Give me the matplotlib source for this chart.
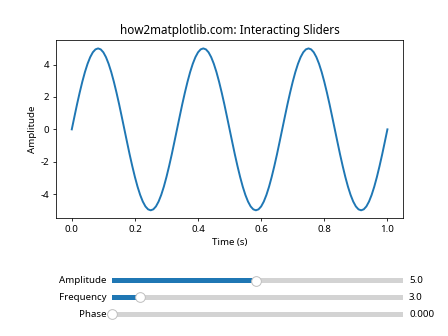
import matplotlib
matplotlib.use("Agg")
import matplotlib.pyplot as plt
from matplotlib.widgets import Slider

plt.rcParams["font.family"] = ["Noto Sans", "DejaVu Sans"]
plt.rcParams["axes.unicode_minus"] = False

# slider settings shown in the picture
amp0, freq0, phase0 = 5.0, 3.0, 0.0

t = [k / 120 for k in range(121)]
y = [0.0, 0.78, 1.55, 2.27, 2.94, 3.54, 4.05, 4.46, 4.76, 4.94,
     5.0, 4.94, 4.76, 4.46, 4.05, 3.54, 2.94, 2.27, 1.55, 0.78,
     0.0, -0.78, -1.55, -2.27, -2.94, -3.54, -4.05, -4.46, -4.76, -4.94,
     -5.0, -4.94, -4.76, -4.46, -4.05, -3.54, -2.94, -2.27, -1.55, -0.78,
     0.0, 0.78, 1.55, 2.27, 2.94, 3.54, 4.05, 4.46, 4.76, 4.94,
     5.0, 4.94, 4.76, 4.46, 4.05, 3.54, 2.94, 2.27, 1.55, 0.78,
     0.0, -0.78, -1.55, -2.27, -2.94, -3.54, -4.05, -4.46, -4.76, -4.94,
     -5.0, -4.94, -4.76, -4.46, -4.05, -3.54, -2.94, -2.27, -1.55, -0.78,
     0.0, 0.78, 1.55, 2.27, 2.94, 3.54, 4.05, 4.46, 4.76, 4.94,
     5.0, 4.94, 4.76, 4.46, 4.05, 3.54, 2.94, 2.27, 1.55, 0.78,
     0.0, -0.78, -1.55, -2.27, -2.94, -3.54, -4.05, -4.46, -4.76, -4.94,
     -5.0, -4.94, -4.76, -4.46, -4.05, -3.54, -2.94, -2.27, -1.55, -0.78,
     0.0]

fig, ax = plt.subplots(figsize=(6.4, 4.8), dpi=70)
plt.subplots_adjust(bottom=0.35)
ax.plot(t, y, lw=2)
ax.set_xlabel("Time (s)")
ax.set_ylabel("Amplitude")
ax.set_title("how2matplotlib.com: Interacting Sliders")

ax_amp = plt.axes([0.25, 0.15, 0.65, 0.03])
ax_freq = plt.axes([0.25, 0.10, 0.65, 0.03])
ax_phase = plt.axes([0.25, 0.05, 0.65, 0.03])
s_amp = Slider(ax_amp, "Amplitude", 0.1, 10.0, valinit=amp0, valfmt="%1.1f")
s_freq = Slider(ax_freq, "Frequency", 0.1, 30.0, valinit=freq0, valfmt="%1.1f")
s_phase = Slider(ax_phase, "Phase", 0, 6.2832, valinit=phase0, valfmt="%1.3f")

fig.savefig("out.png", dpi=70)
